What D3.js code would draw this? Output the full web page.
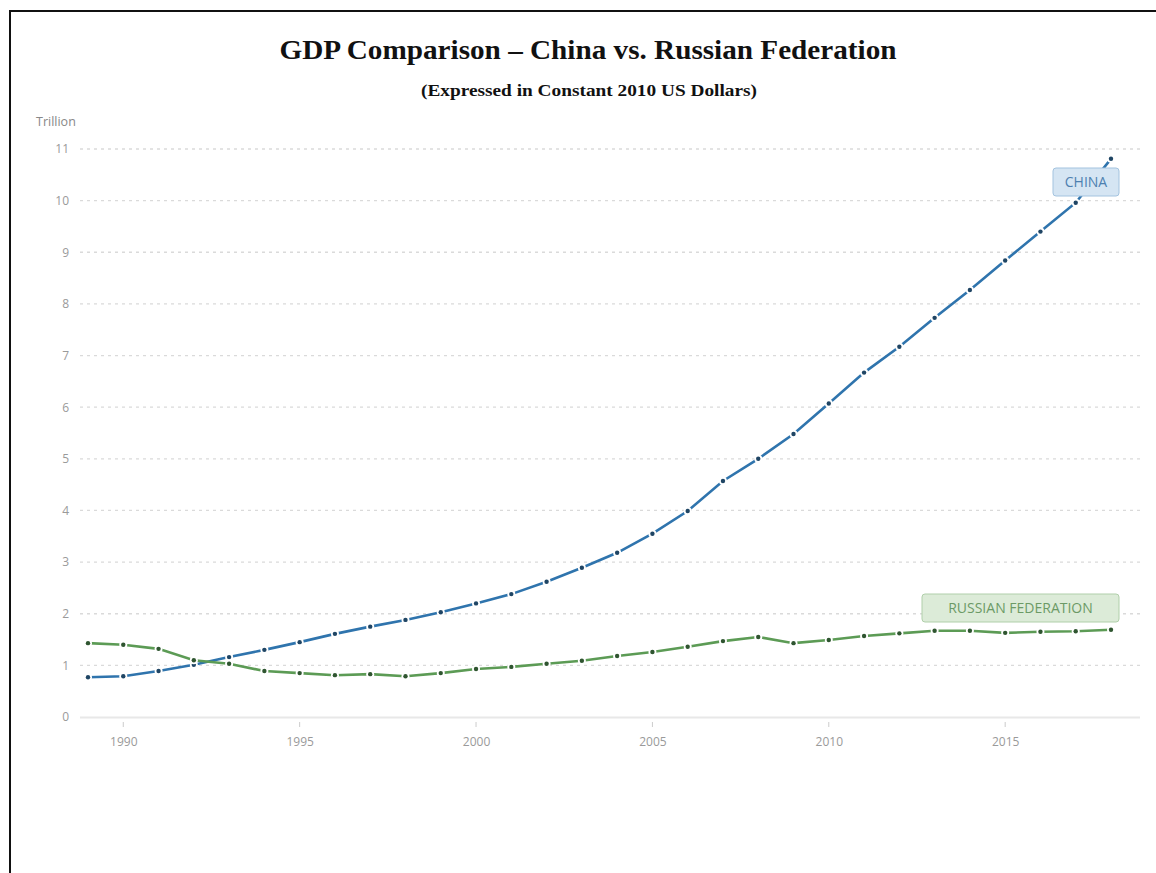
<!DOCTYPE html>
<html><head><meta charset="utf-8">
<script src="https://cdn.jsdelivr.net/npm/d3@7"></script>
<style>body{margin:0;background:#fff}svg{display:block}</style>
</head><body>
<svg id="c" width="1156" height="873"></svg>
<script>
const years = d3.range(1989, 2019);
const china = [0.77,0.79,0.89,1.01,1.16,1.30,1.45,1.61,1.75,1.88,2.03,2.20,2.38,2.62,2.89,3.18,3.55,3.99,4.57,5.00,5.48,6.07,6.67,7.17,7.73,8.27,8.84,9.40,9.96,10.81];
const russia = [1.43,1.40,1.32,1.10,1.03,0.89,0.85,0.81,0.83,0.79,0.85,0.93,0.97,1.03,1.09,1.18,1.26,1.36,1.47,1.55,1.43,1.49,1.57,1.62,1.67,1.67,1.63,1.65,1.66,1.69];
const yTicks = [0,1,2,3,4,5,6,7,8,9,10,11];
const xTicks = [1990,1995,2000,2005,2010,2015];
const seriesNames = ["CHINA","RUSSIAN FEDERATION"];
const title = "GDP Comparison \u2013 China vs. Russian Federation";
const subtitle = "(Expressed in Constant 2010 US Dollars)";
const unitLabel = "Trillion";

const svg = d3.select("#c");
// frame
svg.append("rect").attr("x",10).attr("y",11).attr("width",1200).attr("height",900)
  .attr("fill","none").attr("stroke","#111").attr("stroke-width",2);

svg.append("text").attr("x",588).attr("y",59).attr("text-anchor","middle")
  .attr("font-family","'Liberation Serif','Times New Roman',serif").attr("font-weight","bold")
  .attr("font-size",27).attr("textLength",617).attr("lengthAdjust","spacingAndGlyphs").attr("fill","#111").text(title);
svg.append("text").attr("x",589).attr("y",96).attr("text-anchor","middle")
  .attr("font-family","'Liberation Serif','Times New Roman',serif").attr("font-weight","bold")
  .attr("font-size",16.5).attr("textLength",336).attr("lengthAdjust","spacingAndGlyphs").attr("fill","#111").text(subtitle);

const x = d3.scaleLinear().domain([1989,2018]).range([88,1111]);
const y = d3.scaleLinear().domain([0,11]).range([717,149]);
const font = "'Open Sans','Noto Sans',sans-serif";

svg.append("text").attr("x",36).attr("y",126).attr("font-family",font).attr("font-size",12.5)
  .attr("fill","#888").text(unitLabel);

// y axis with gridlines
const gy = svg.append("g").attr("transform","translate(80,0)")
  .call(d3.axisLeft(y).tickValues(yTicks).tickSize(0).tickPadding(11).tickFormat(d3.format("d")));
gy.select(".domain").remove();
gy.selectAll("text").attr("font-family",font).attr("font-size",12).attr("fill","#9a9a9a");
svg.append("g").selectAll("line").data(yTicks.filter(d=>d>0)).join("line")
  .attr("x1",80).attr("x2",1140).attr("y1",d=>y(d)).attr("y2",d=>y(d))
  .attr("stroke","#dadada").attr("stroke-width",1.3).attr("stroke-dasharray","3,4");

// x axis
const gx = svg.append("g").attr("transform","translate(0,717)")
  .call(d3.axisBottom(x).tickValues(xTicks).tickSize(0).tickPadding(20).tickFormat(d3.format("d")));
gx.select(".domain").remove();
gx.selectAll("text").attr("font-family",font).attr("font-size",12).attr("fill","#9a9a9a");
svg.append("line").attr("x1",80).attr("x2",1140).attr("y1",717.5).attr("y2",717.5)
  .attr("stroke","#e8e8e8").attr("stroke-width",2);
svg.append("g").selectAll("line").data(xTicks).join("line")
  .attr("x1",d=>x(d)).attr("x2",d=>x(d)).attr("y1",722).attr("y2",727)
  .attr("stroke","#ccc").attr("stroke-width",1);

const series = [
  {name:seriesNames[0], vals:china, color:"#2f74ad", dot:"#1f4564"},
  {name:seriesNames[1], vals:russia, color:"#5c9b55", dot:"#2f5530"}
];
const line = d3.line().x((d,i)=>x(years[i])).y(d=>y(d));
series.forEach(s=>{
  svg.append("path").datum(s.vals).attr("d",line).attr("fill","none")
    .attr("stroke",s.color).attr("stroke-width",2.6);
  const g = svg.append("g");
  g.selectAll("circle.h").data(s.vals).join("circle").attr("class","h")
    .attr("cx",(d,i)=>x(years[i])).attr("cy",d=>y(d)).attr("r",4).attr("fill","#fff");
  g.selectAll("circle.d").data(s.vals).join("circle").attr("class","d")
    .attr("cx",(d,i)=>x(years[i])).attr("cy",d=>y(d)).attr("r",2.2).attr("fill",s.dot);
});

// labels
function label(txt, cx, cy, w, fill, stroke, color){
  svg.append("rect").attr("x",cx-w/2).attr("y",cy-14).attr("width",w).attr("height",28).attr("rx",3)
    .attr("fill",fill).attr("stroke",stroke).attr("stroke-width",1);
  svg.append("text").attr("x",cx).attr("y",cy+5).attr("text-anchor","middle")
    .attr("font-family",font).attr("font-size",14).attr("fill",color).text(txt);
}
label(seriesNames[0], 1086, 182, 66, "#d5e5f3", "#a3c3df", "#4d80b0");
label(seriesNames[1], 1020.5, 608, 197, "#dcebd8", "#b0cfaa", "#6c9a66");
</script>
</body></html>
